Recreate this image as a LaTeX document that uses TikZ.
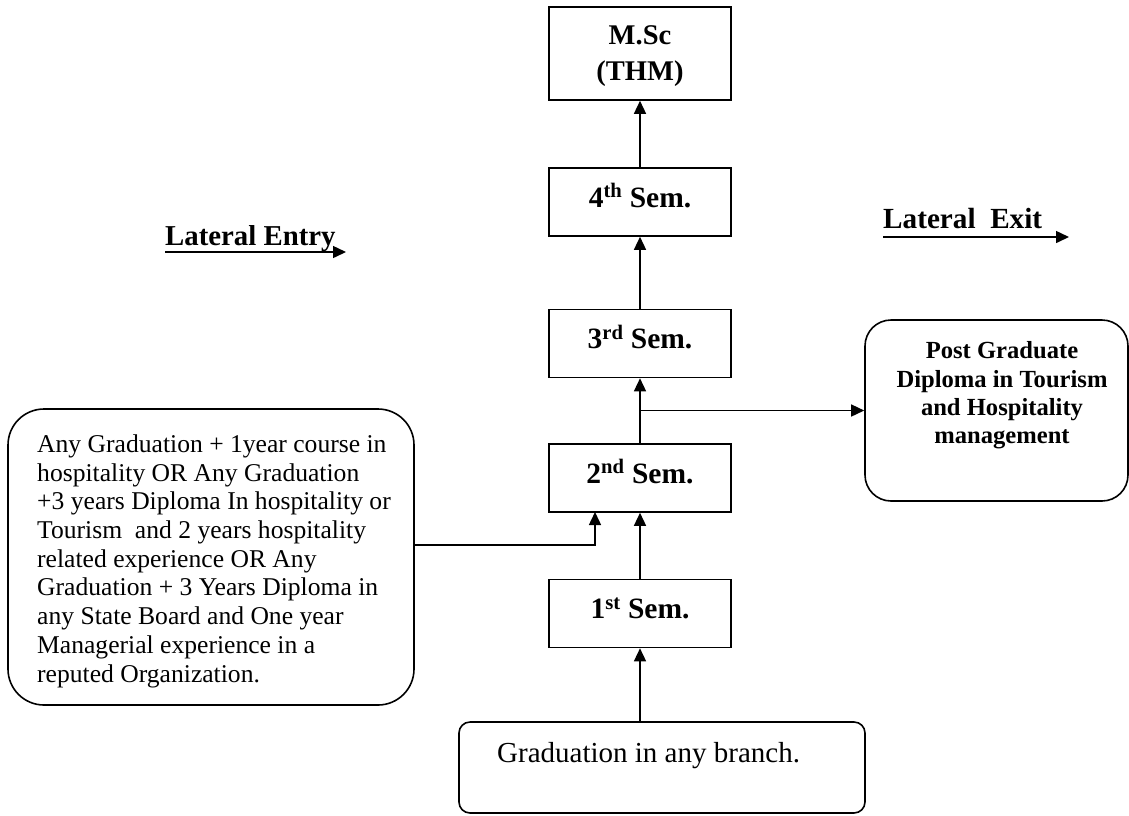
\documentclass[tikz,border=0pt]{standalone}
\usepackage{fontspec}
\setmainfont{Liberation Serif}
\usetikzlibrary{arrows.meta}
\newcommand{\fsz}[2]{\fontsize{#1}{#2}\selectfont}
\begin{document}
\begin{tikzpicture}[x=1pt,y=-1pt,
  semb/.style={draw,line width=1.6pt,minimum width=182pt,minimum height=68pt,inner sep=0pt,
    font=\fsz{29.5}{34}\bfseries,text height=20pt,text depth=10pt},
  rbox/.style={draw,line width=1.6pt,inner sep=0pt},
  arr/.style={line width=1.5pt,-{Triangle[length=13pt,width=12pt]}}]
\useasboundingbox (0,0) rectangle (1129,815);

\node[draw,line width=1.6pt,minimum width=182pt,minimum height=93pt,inner sep=0pt,
  align=center,font=\fsz{28.5}{36}\bfseries] (msc) at (640,53.5) {\rule{0pt}{25pt}M.Sc\\(THM)};
\node[semb] (s4) at (640,202) {4\textsuperscript{th} Sem.};
\node[semb] (s3) at (640,343.5) {3\textsuperscript{rd} Sem.};
\node[semb] (s2) at (640,478) {2\textsuperscript{nd} Sem.};
\node[semb] (s1) at (640,613.5) {1\textsuperscript{st} Sem.};

\node[rbox,rounded corners=11pt,minimum width=406pt,minimum height=91pt] (grad) at (662,767.5) {};
\node[inner sep=0pt,anchor=base west,font=\fsz{29}{33}] (gradtxt) at (497,762) {Graduation in any branch.};

\node[rbox,rounded corners=36pt,minimum width=406pt,minimum height=296pt] (entry) at (211,557) {};
\node[inner sep=0pt,anchor=north west,align=left,font=\fsz{25.6}{28.7}] (entrytxt) at (37,434.5)
{Any Graduation + 1year course in\\
hospitality OR Any Graduation\\
+3 years Diploma In hospitality or\\
Tourism\ \ and 2 years hospitality\\
related experience OR Any\\
Graduation + 3 Years Diploma in\\
any State Board and One year\\
Managerial experience in a\\
reputed Organization.};

\node[rbox,rounded corners=26pt,minimum width=263pt,minimum height=181pt] (pg) at (996.5,410.5) {};
\node[inner sep=0pt,anchor=north,align=center,font=\fsz{24.6}{28.3}\bfseries] (pgtxt) at (1002,341.5)
{Post Graduate\\Diploma in Tourism\\and Hospitality\\management};

\node[inner sep=0pt,anchor=base west,font=\fsz{28.8}{33}\bfseries] (lent) at (165,245) {Lateral Entry};
\node[inner sep=0pt,anchor=base west,font=\fsz{29.2}{33}\bfseries] (lexit) at (883,228) {Lateral\ \ Exit};
\coordinate (lentA) at (165,252);
\coordinate (lentB) at (346,252);
\coordinate (lexA) at (883,237);
\coordinate (lexB) at (1069,237);
\draw[arr] (lentA) -- (lentB);
\draw[arr] (lexA) -- (lexB);

\draw[arr] (s4.north) -- (msc.south);
\draw[arr] (s3.north) -- (s4.south);
\draw[arr] (s2.north) -- (s3.south);
\draw[arr] (s1.north) -- (s2.south);
\draw[arr] (grad.north -| s1.south) -- (s1.south);

\coordinate (br) at (640,410.5);
\draw[arr] (br) -- (pg.west);

\coordinate (ej) at (414,545);
\coordinate (s2in) at (595,512);
\draw[arr] (ej) -| (s2in);
\end{tikzpicture}
\end{document}
